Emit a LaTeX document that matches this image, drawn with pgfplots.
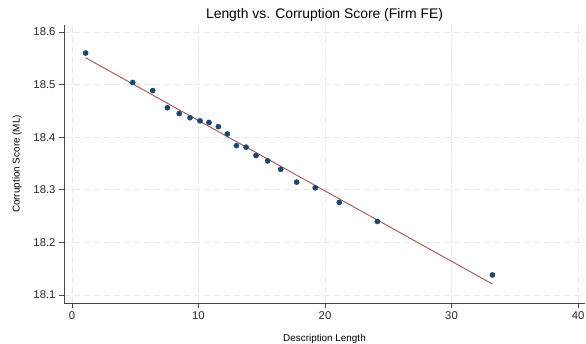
\documentclass[border=0pt]{standalone}
\usepackage{pgfplots}
\pgfplotsset{compat=1.18}
\usepackage{fontspec}
\setmainfont{Liberation Sans}

\definecolor{dotnavy}{RGB}{26,71,111}
\definecolor{fitred}{RGB}{168,82,82}
\definecolor{gridgray}{RGB}{232,232,232}
\definecolor{axisgray}{RGB}{70,70,70}

\begin{document}
\begin{tikzpicture}
\useasboundingbox (0,0) rectangle (586pt,344pt);
\begin{axis}[
  name=main,
  at={(64pt,41pt)}, anchor=south west,
  scale only axis, width=521pt, height=278pt,
  xmin=-0.63, xmax=40.55,
  ymin=18.0847, ymax=18.6133,
  axis x line*=bottom, axis y line*=left,
  axis line style={-, draw=axisgray, line width=0.8pt},
  xtick={0,10,20,30,40},
  ytick={18.1,18.2,18.3,18.4,18.5,18.6},
  tick align=outside, major tick length=5pt,
  tick style={draw=axisgray, line width=0.6pt},
  grid=major,
  major grid style={draw=gridgray, line width=0.8pt, dash pattern=on 6pt off 4pt},
  /pgf/number format/assume math mode=true,
  yticklabel style={/pgf/number format/fixed, /pgf/number format/fixed zerofill, /pgf/number format/precision=1},
  ticklabel style={font=\fontsize{11.3}{13}\selectfont, text=black!85},
  xlabel={Description Length},
  xlabel style={at={(axis description cs:0.5,-0.1385)}, anchor=base, font=\fontsize{9.9}{12}\selectfont},
  ylabel={Corruption Score (ML)},
  ylabel style={at={(axis description cs:-0.0902,0.5)}, anchor=center, font=\fontsize{9.9}{12}\selectfont},
]
% binned means
\addplot[only marks, mark=*, mark size=2.6pt, color=dotnavy] coordinates {
  (1.08,18.560) (4.80,18.504) (6.38,18.4885) (7.54,18.456) (8.48,18.445)
  (9.33,18.437) (10.12,18.431) (10.83,18.428) (11.57,18.420) (12.28,18.406)
  (13.00,18.384) (13.76,18.381) (14.55,18.365) (15.47,18.355) (16.50,18.339)
  (17.76,18.3145) (19.23,18.3037) (21.13,18.276) (24.14,18.2397) (33.23,18.138)
};
% linear fit
\addplot[color=fitred, line width=0.9pt] coordinates {
  (1.08,18.551) (33.23,18.1208)
};
\end{axis}
% title, centred over the plot area
\node[anchor=base, inner sep=0pt, font=\fontsize{13.9}{16}\selectfont]
  at ([yshift=6pt]main.north) {Length vs. Corruption Score (Firm FE)};
\end{tikzpicture}
\end{document}
